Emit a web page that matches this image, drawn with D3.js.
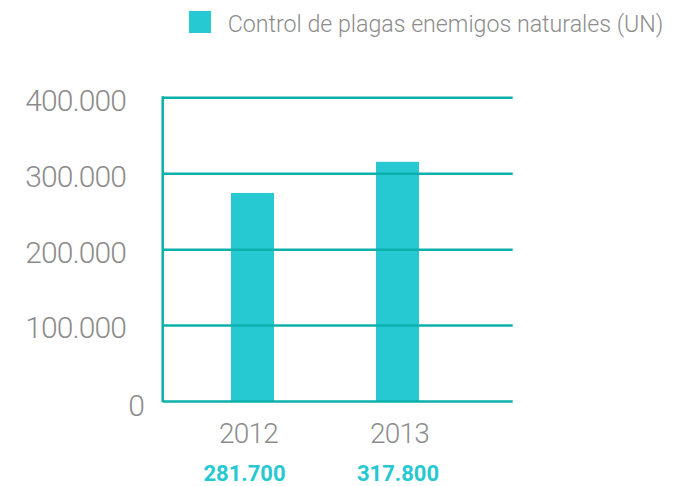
<!DOCTYPE html>
<html><head><meta charset="utf-8">
<script src="https://cdn.jsdelivr.net/npm/d3@7"></script>
<style>
body{margin:0;background:#fff;}
text{font-family:Roboto,"Open Sans",sans-serif;}
</style></head>
<body><svg id="c" width="688" height="486"></svg>
<script>
const categories = ["2012", "2013"];
const values = [274000, 315000];          // bar heights as drawn
const valueLabels = ["281.700", "317.800"]; // printed labels
const yTicks = [0, 100000, 200000, 300000, 400000];
const yTickLabels = ["0", "100.000", "200.000", "300.000", "400.000"];
const seriesName = "Control de plagas enemigos naturales (UN)";

const svg = d3.select("#c");
const pLeft = 162.7, pRight = 512.7, pTop = 97.3, pBottom = 401;
const barColor = "#26C9D2", gridColor = "#0BB0AB", textGray = "#8c8c8c";

const y = d3.scaleLinear().domain([0, 400000]).range([pBottom, pTop]);
const x = d3.scaleBand().domain(categories).range([180, 470]).paddingInner(0.7034).paddingOuter(0.3517);
const xCat = d3.scalePoint().domain(categories).range([248.5, 399.5]);
const xVal = d3.scalePoint().domain(categories).range([244.5, 398]);

// bars
svg.append("g").selectAll("rect").data(values).join("rect")
  .attr("x", (d,i)=>x(categories[i]))
  .attr("width", x.bandwidth())
  .attr("y", d=>y(d))
  .attr("height", d=>pBottom - y(d))
  .attr("fill", barColor);

// gridlines
const grid = svg.append("g").attr("transform", `translate(${pLeft},0)`)
  .call(d3.axisRight(y).tickValues(yTicks).tickSize(pRight-pLeft).tickFormat(""));
grid.select(".domain").remove();
grid.selectAll("line").attr("stroke", gridColor).attr("stroke-width", 2.5);

// left axis line
svg.append("line").attr("x1", pLeft).attr("x2", pLeft).attr("y1", pTop-1).attr("y2", pBottom+1)
  .attr("stroke", gridColor).attr("stroke-width", 2.5);

// y tick labels
const yAx = svg.append("g").attr("transform", `translate(126,0)`)
  .call(d3.axisLeft(y).tickValues(yTicks).tickSize(0).tickPadding(0)
    .tickFormat((d,i)=>yTickLabels[i]));
yAx.select(".domain").remove();
yAx.selectAll("text").attr("fill", textGray).attr("font-size", 30).attr("font-weight", 300)
  .attr("font-family", "Roboto").attr("dy", "0.38em").attr("letter-spacing", "-0.9")
  .attr("transform", d => d === 0 ? "translate(18,3)" : "translate(0,1.5)");

// x labels
svg.append("g").selectAll("text").data(categories).join("text")
  .attr("x", d=>xCat(d))
  .attr("y", 443)
  .attr("text-anchor", "middle")
  .attr("fill", textGray).attr("font-size", 28).attr("font-weight", 300)
  .attr("letter-spacing", "-0.8")
  .text(d=>d);

// value labels
svg.append("g").selectAll("text").data(valueLabels).join("text")
  .attr("x", (d,i)=>xVal(categories[i]))
  .attr("y", 481)
  .attr("text-anchor", "middle")
  .attr("fill", barColor).attr("font-size", 22).attr("font-weight", 700)
  .text(d=>d);

// legend
svg.append("rect").attr("x", 189).attr("y", 11).attr("width", 22).attr("height", 22).attr("fill", barColor);
svg.append("text").attr("x", 227.7).attr("y", 31.5).attr("fill", textGray)
  .attr("font-size", 23.2).attr("font-weight", 300).text(seriesName);
</script></body></html>
